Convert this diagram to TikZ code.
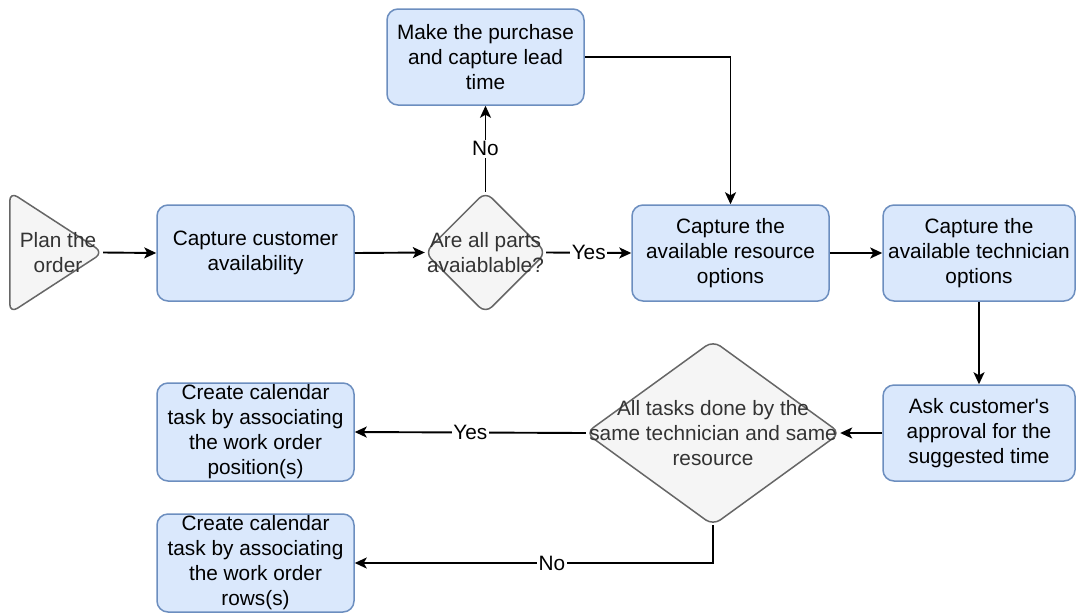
\documentclass[tikz,border=0pt]{standalone}
\usepackage{fontspec}
\setmainfont{Liberation Sans}
\usetikzlibrary{arrows.meta}
\definecolor{boxfill}{HTML}{DAE8FC}
\definecolor{boxline}{HTML}{6C8EBF}
\definecolor{grayfill}{HTML}{F5F5F5}
\definecolor{grayline}{HTML}{666666}
\definecolor{graytext}{HTML}{333333}
\begin{document}
\begin{tikzpicture}[x=1pt,y=-1pt,
  font=\fontsize{20.8}{25}\selectfont,
  process/.style={draw=boxline, fill=boxfill, line width=1.5pt,
    rounded corners=11pt, minimum width=197pt, minimum height=96pt,
    align=center, inner sep=0pt},
  grayshape/.style={draw=grayline, fill=grayfill, line width=1.5pt,
    rounded corners=9pt, line join=round},
  graylabel/.style={text=graytext, align=center, inner sep=0pt},
  flow/.style={line width=1.9pt, -{Stealth[length=12pt,width=11pt,inset=3pt]}},
  edgelabel/.style={fill=white, inner sep=1.5pt}
]
\useasboundingbox (0,0) rectangle (1076,614);

% start triangle
\node[minimum width=93pt, minimum height=121pt, inner sep=0pt] (start) at (56.5,252.5) {};
\draw[grayshape] (start.north west) -- (start.east) -- (start.south west) -- cycle;
\node[graylabel] (startlbl) at (58,253) {Plan the\\order};

% process boxes
\node[process] (avail) at (255.5,253) {Capture customer\\availability};
\node[process] (purchase) at (485.5,57) {Make the purchase\\and capture lead\\time};
\node[process] (resource) at (730.5,253) {Capture the\\available resource\\options};
\node[process, minimum width=192pt] (tech) at (979,253) {Capture the\\available technician\\options};
\node[process, minimum width=192pt] (ask) at (979,433) {Ask customer\textquotesingle s\\approval for the\\suggested time};
\node[process, minimum height=98pt] (calpos) at (255.5,432) {Create calendar\\task by associating\\the work order\\position(s)};
\node[process, minimum height=98pt] (calrow) at (255.5,563) {Create calendar\\task by associating\\the work order\\rows(s)};

% decision: parts available
\node[minimum width=121pt, minimum height=121pt, inner sep=0pt] (parts) at (485.5,252.5) {};
\draw[grayshape] (parts.north) -- (parts.east) -- (parts.south) -- (parts.west) -- cycle;
\node[graylabel] (partslbl) at (485.5,253) {Are all parts\\avaiablable?};

% decision: same technician and resource
\node[minimum width=254pt, minimum height=184pt, inner sep=0pt] (same) at (713,433) {};
\draw[grayshape] (same.north) -- (same.east) -- (same.south) -- (same.west) -- cycle;
\node[graylabel] (samelbl) at (713,433) {All tasks done by the\\same technician and same\\resource};

% connectors
\draw[flow] (start.east) -- (avail.west);
\draw[flow] (avail.east) -- (parts.west);
\draw[flow] (parts.east) -- node[edgelabel] {Yes} (resource.west);
\draw[flow] (parts.north) -- node[edgelabel] {No} (purchase.south);
\draw[flow] (purchase.east) -| (resource.north);
\draw[flow] (resource.east) -- (tech.west);
\draw[flow] (tech.south) -- (ask.north);
\draw[flow] (ask.west) -- (same.east);
\draw[flow] (same.west) -- node[edgelabel, pos=0.5] {Yes} (calpos.east);
\coordinate (bend) at (same.south |- calrow.east);
\draw[flow] (same.south) -- (bend) -- node[edgelabel, pos=0.45] {No} (calrow.east);
\end{tikzpicture}
\end{document}
